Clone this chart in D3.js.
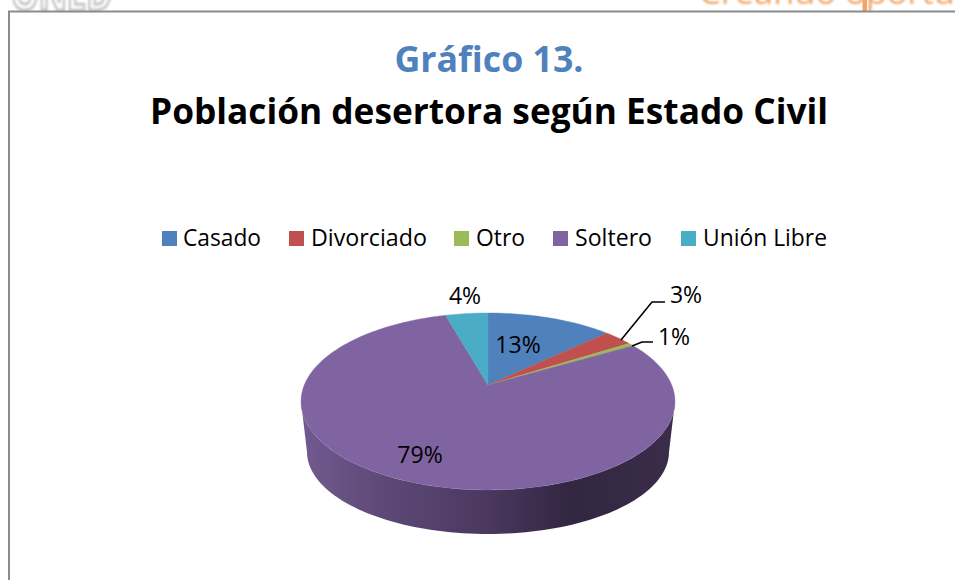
<!DOCTYPE html>
<html><head><meta charset="utf-8">
<script src="https://cdn.jsdelivr.net/npm/d3@7"></script>
<style>html,body{margin:0;padding:0;background:#fff;overflow:hidden}svg{display:block}text{font-family:"Open Sans","Noto Sans",sans-serif}</style>
</head><body>
<svg id="c" width="955" height="580"></svg>
<script>
const categories = ["Casado","Divorciado","Otro","Soltero","Unión Libre"];
const values = [13, 3, 0.6, 79, 4.4];
const colors = ["#4f81bd","#c0504d","#9bbb59","#8064a2","#4bacc6"];
const titleLine1 = "Gráfico 13.";
const titleLine2 = "Población desertora según Estado Civil";

const svg = d3.select("#c");
const defs = svg.append("defs");
defs.append("filter").attr("id","soft").append("feGaussianBlur").attr("stdDeviation",0.8);

// cropped page header behind the chart
svg.append("text").attr("x",11).attr("y",9.5).attr("font-size",46).attr("font-weight",700)
  .attr("textLength",101).attr("lengthAdjust","spacingAndGlyphs")
  .attr("fill","#fff").attr("stroke","#c4c4c4").attr("stroke-width",3).attr("filter","url(#soft)").text("ONED");
svg.append("text").attr("x",699).attr("y",4).attr("font-size",31).attr("font-weight",400)
  .attr("textLength",256).attr("lengthAdjust","spacingAndGlyphs")
  .attr("fill","#f2a566").attr("filter","url(#soft)").text("Creando oportu");
svg.append("rect").attr("x",862.5).attr("y",0).attr("width",4.5).attr("height",11).attr("fill","#f2a566");

// frame
svg.append("path").attr("d","M9,580V11.5H955").attr("fill","none").attr("stroke","#8c8c8c").attr("stroke-width",2);

// titles
svg.append("text").attr("x",489).attr("y",72).attr("text-anchor","middle").attr("font-size",36)
  .attr("font-weight",700).attr("fill","#4f81bd").attr("textLength",189).attr("lengthAdjust","spacingAndGlyphs").text(titleLine1);
svg.append("text").attr("x",489).attr("y",124).attr("text-anchor","middle").attr("font-size",36)
  .attr("font-weight",700).attr("fill","#000").attr("textLength",678).attr("lengthAdjust","spacingAndGlyphs").text(titleLine2);

// legend
const legendSwatch = [162,289,454,553,681];
const legendText = [183,311,476,575,703];
const legendWidth = [78,116,49,77,124];
const lg = svg.append("g").selectAll("g").data(categories).join("g");
lg.append("rect").attr("x",(d,i)=>legendSwatch[i]).attr("y",231).attr("width",15).attr("height",15).attr("fill",(d,i)=>colors[i]);
lg.append("text").attr("x",(d,i)=>legendText[i]).attr("y",246).attr("font-size",24).attr("fill","#000")
  .attr("textLength",(d,i)=>legendWidth[i]).attr("lengthAdjust","spacingAndGlyphs").text(d=>d);

// perspective projection of the unit disc onto the page
const cx=488, apexY=385, B=183.7, A=85.4, e=-0.186;
const project = (theta,r=1)=>{
  const u=r*Math.sin(theta), v=-r*Math.cos(theta), w=1+e*v;
  return [cx+B*u/w, apexY+A*v/w];
};
const line = d3.line();
const pie = d3.pie().value(d=>d).sort(null);
const arcs = pie(values);
const sliceLine = a=>{
  const n=Math.max(2,Math.ceil((a.endAngle-a.startAngle)/0.02));
  const rim=d3.range(n+1).map(i=>project(a.startAngle+(a.endAngle-a.startAngle)*i/n));
  return line([[cx,apexY],...rim])+"Z";
};

// wall
const grad=defs.append("linearGradient").attr("id","wall").attr("gradientUnits","userSpaceOnUse")
  .attr("x1",301).attr("x2",675).attr("y1",0).attr("y2",0);
[[0,"#725a90"],[0.2,"#5f4a78"],[0.5,"#4a3860"],[0.72,"#322640"],[1,"#3b2d4b"]]
  .forEach(([o,c])=>grad.append("stop").attr("offset",o).attr("stop-color",c));
const topRim=d3.range(0,361,2).map(t=>[cx+187*Math.cos(t*Math.PI/180),401.5+88.5*Math.sin(t*Math.PI/180)]);
const botRim=d3.range(0,361,2).map(t=>[cx+181*Math.cos(t*Math.PI/180),452+82*Math.sin(t*Math.PI/180)]);
const lowerTop=topRim.slice(0,91), lowerBot=botRim.slice(0,91);
svg.append("path").attr("d",line([...lowerTop,...lowerBot.reverse()])+"Z").attr("fill","url(#wall)");

// top face
svg.append("g").selectAll("path").data(arcs).join("path")
  .attr("d",sliceLine).attr("fill",(d,i)=>colors[i]).attr("stroke",(d,i)=>colors[i]).attr("stroke-width",0.4);

// leader lines
const leaders=[[621,340,652,302,665,302],[632,346,642,342,653,342]];
svg.append("g").selectAll("path").data(leaders).join("path")
  .attr("d",d=>`M${d[0]},${d[1]}L${d[2]},${d[3]}L${d[4]},${d[5]}`).attr("fill","none").attr("stroke","#000").attr("stroke-width",1.6);

// data labels
const pct=d3.format(".0f");
const labelPos=[[518,353],[686,303],[674,345],[420,463],[465,304]];
svg.append("g").selectAll("text").data(values).join("text")
  .attr("x",(d,i)=>labelPos[i][0]).attr("y",(d,i)=>labelPos[i][1]).attr("text-anchor","middle")
  .attr("font-size",23).attr("fill","#000").text(d=>pct(d)+"%");
</script>
</body></html>
